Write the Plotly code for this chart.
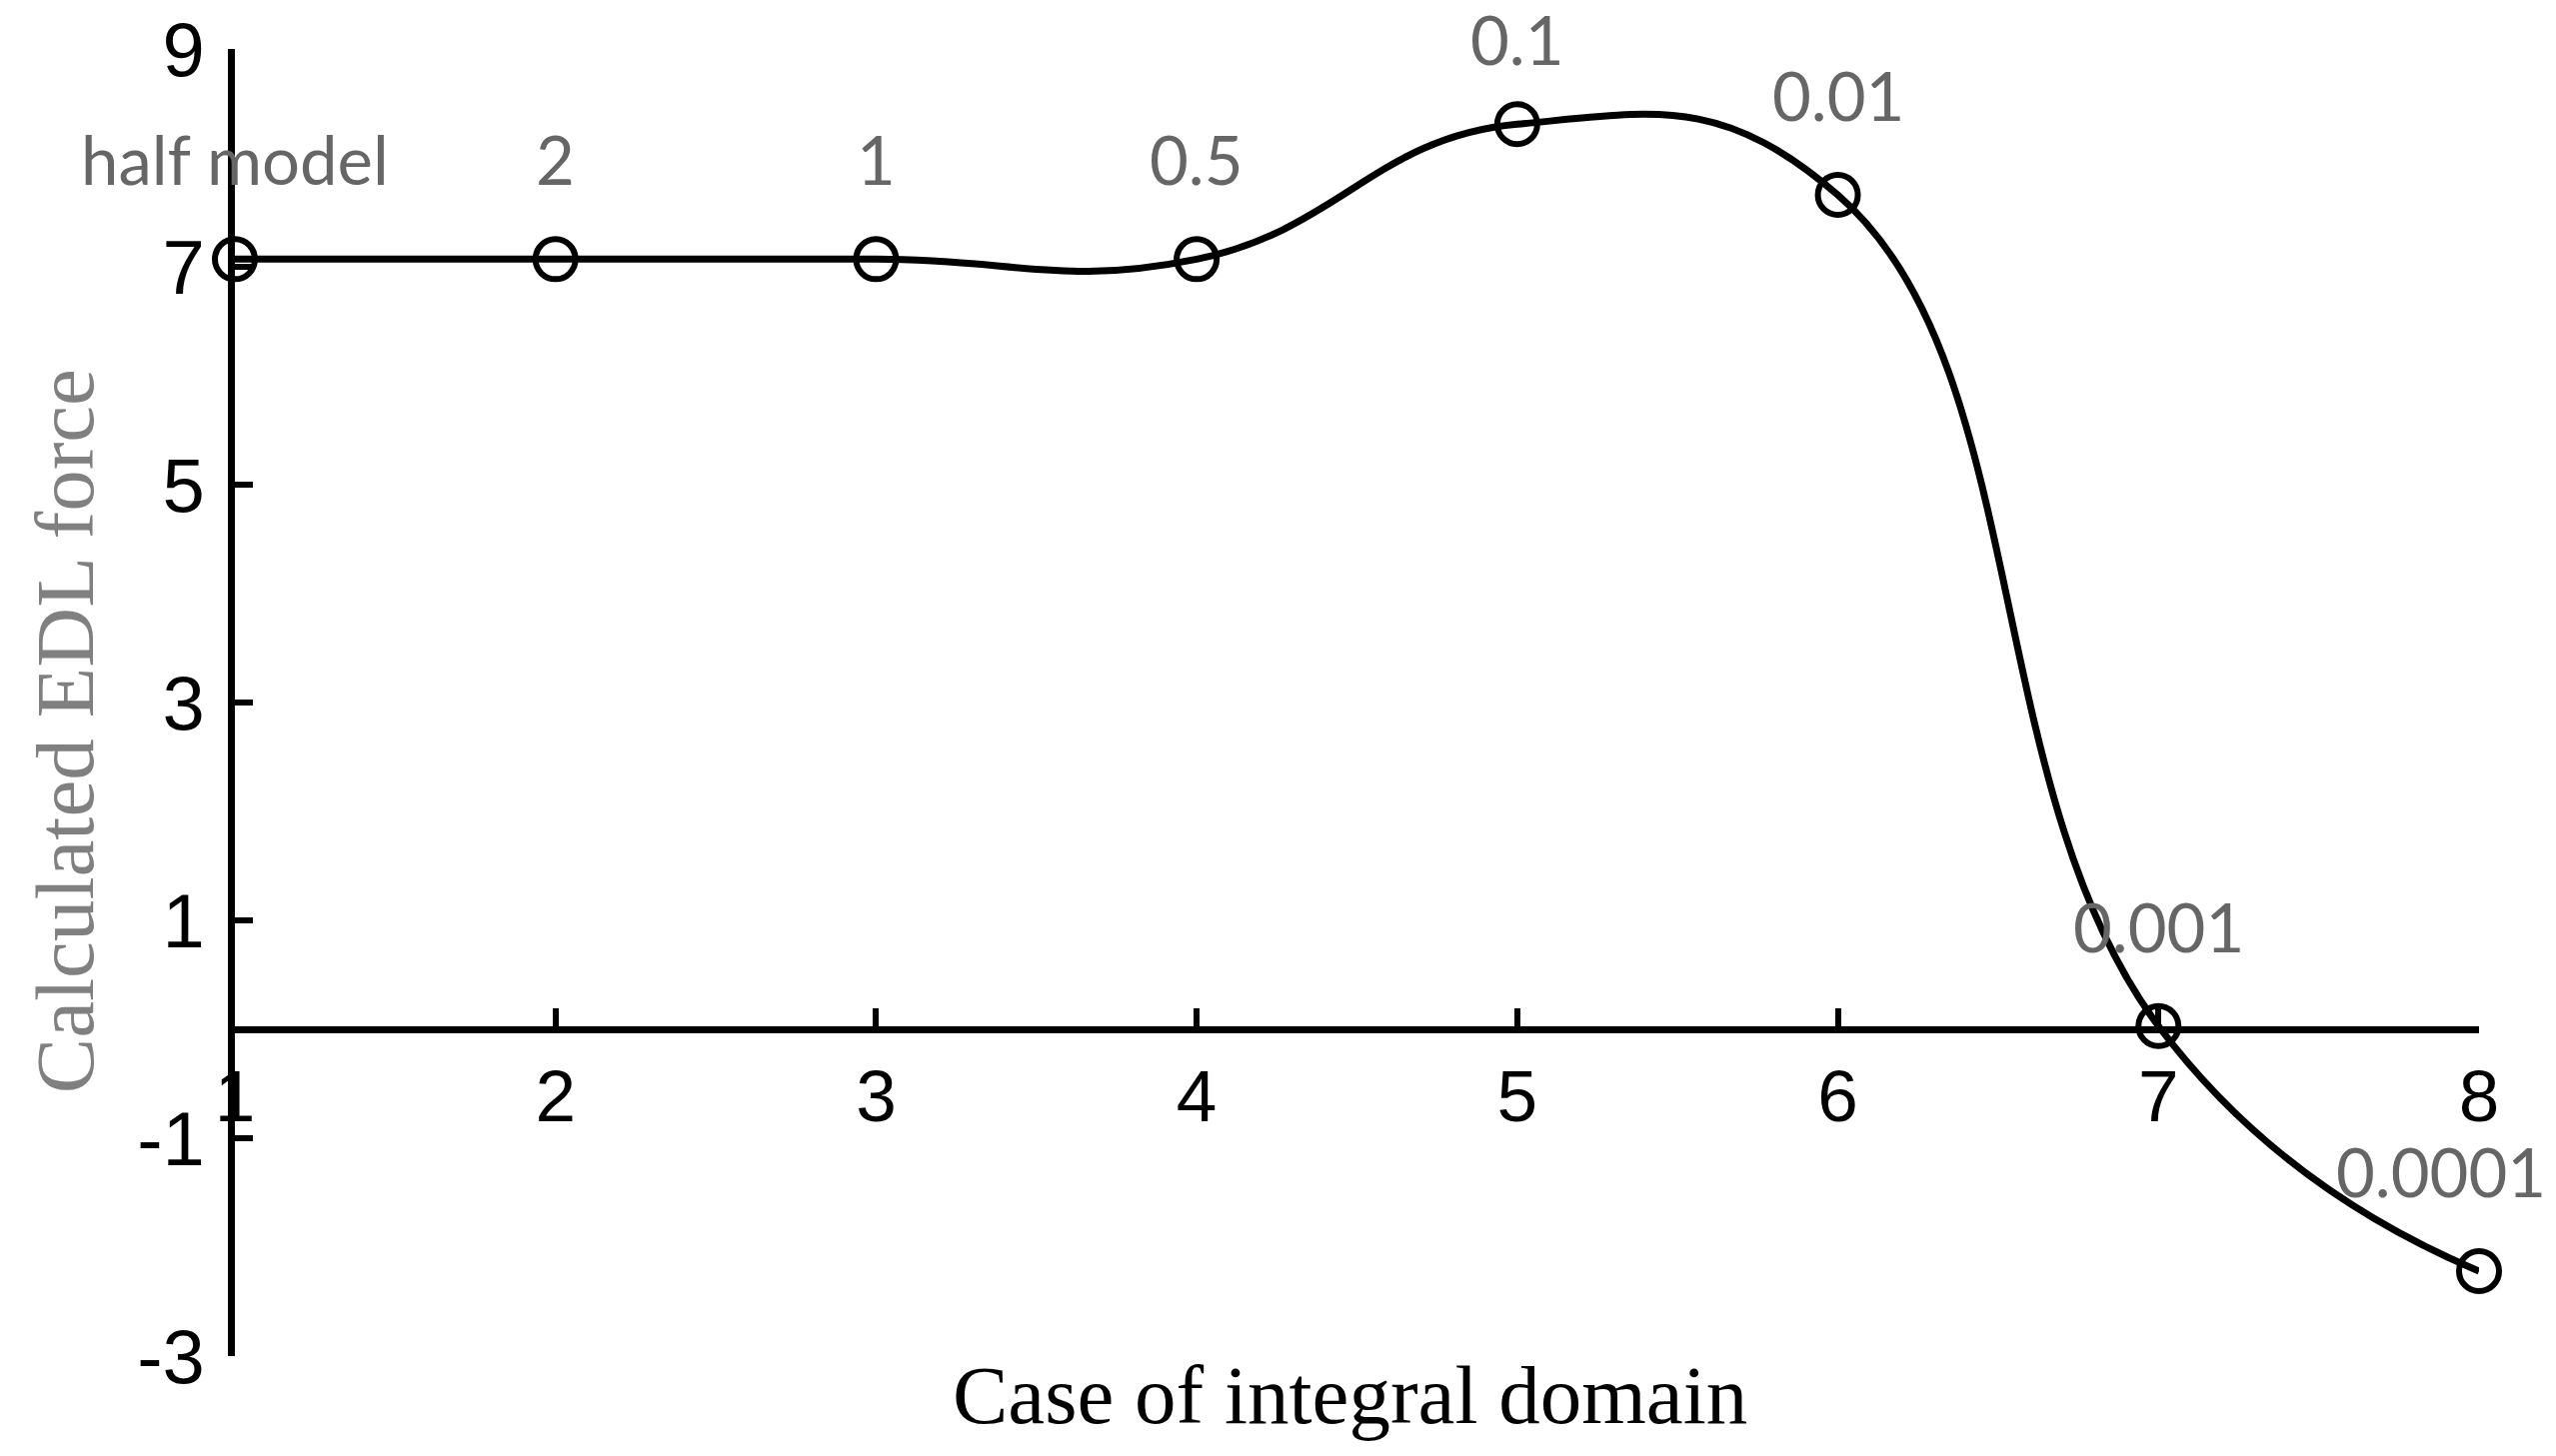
""" Calculated EDL force vs case of integral domain """

import plotly.graph_objects as go

#### data ####

case_no = [1, 2, 3, 4, 5, 6, 7, 8]
edl_force = [7.07, 7.07, 7.07, 7.07, 8.31, 7.66, 0.03, -2.22]
domain_labels = ['half model', '2', '1', '0.5', '0.1', '0.01', '0.001', '0.0001']

y_ticks = [-3, -1, 1, 3, 5, 7, 9]
y_ticktext = ['-3', '-1', '1', '3', '5', '7', '9']
x_ticks = [1, 2, 3, 4, 5, 6, 7, 8]

fig = go.Figure()

fig.add_trace(go.Scatter(
    x=case_no, y=edl_force,
    mode='lines+markers',
    line=dict(color='black', width=7, shape='spline', smoothing=1.3),
    marker=dict(symbol='circle-open', size=40, color='black',
                line=dict(width=6, color='black')),
    cliponaxis=False,
    showlegend=False,
))

# grey labels above each point (Excel nudges the top and the last one)
label_nudge = {'0.1': (0, 85), '0.0001': (-38, 100)}
for xv, yv, txt in zip(case_no, edl_force, domain_labels):
    xs, ys = label_nudge.get(txt, (0, 100))
    fig.add_annotation(x=xv, y=yv, text=txt, showarrow=False,
                       xanchor='center', yanchor='middle',
                       yshift=ys, xshift=xs,
                       font=dict(family='Lato', size=67, color='#666666'))

# axis titles
fig.add_annotation(x=-0.076, y=0.478, xref='paper', yref='paper',
                   text='Calculated EDL force', showarrow=False, textangle=-90,
                   xanchor='center', yanchor='middle',
                   font=dict(family='Liberation Serif', size=83, color='#808080'))
fig.add_annotation(x=0.497, y=-0.03, xref='paper', yref='paper',
                   text='Case of integral domain', showarrow=False,
                   xanchor='center', yanchor='middle',
                   font=dict(family='Liberation Serif', size=83, color='black'))

fig.update_layout(
    width=2557, height=1457,
    margin=dict(l=227, r=85, t=41, b=108, autoexpand=False),
    paper_bgcolor='white', plot_bgcolor='white',
    xaxis=dict(range=[1, 8], tickvals=x_ticks, showgrid=False, zeroline=False,
               showline=True, linecolor='black', linewidth=7,
               ticks='inside', ticklen=18, tickwidth=6, tickcolor='black',
               anchor='free', position=0.25, ticklabelstandoff=0,
               ticklabeloverflow='allow', automargin=False,
               tickfont=dict(family='Liberation Sans', size=73, color='black')),
    yaxis=dict(range=[-3, 9], tickvals=y_ticks, ticktext=y_ticktext,
               showgrid=False, zeroline=False,
               showline=True, linecolor='black', linewidth=7,
               ticks='inside', ticklen=18, tickwidth=6, tickcolor='black',
               ticklabelstandoff=8, ticklabeloverflow='allow', automargin=False,
               tickfont=dict(family='Liberation Sans', size=76, color='black')),
)

fig.write_html("out.html")
